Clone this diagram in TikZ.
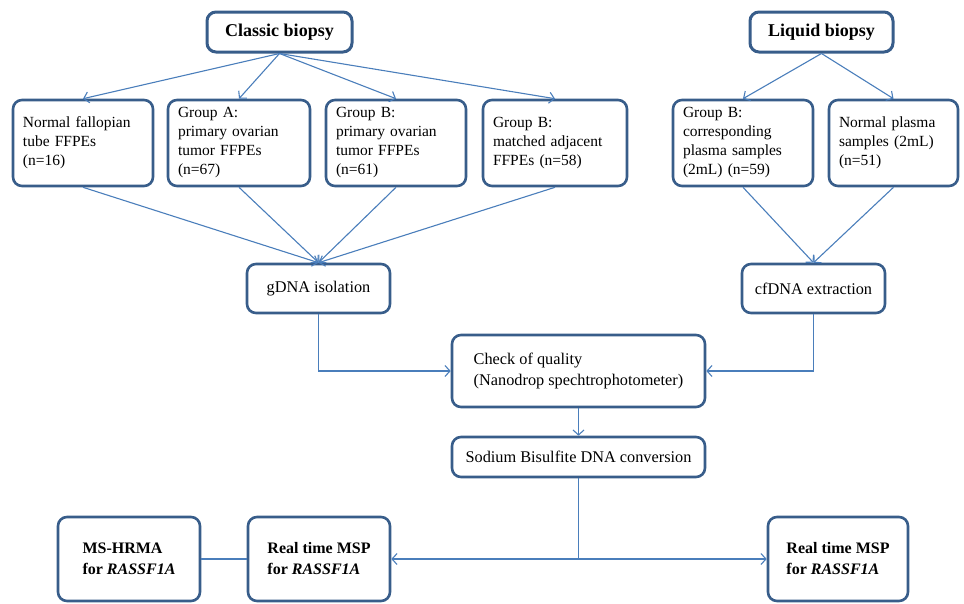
\documentclass[tikz,border=0pt]{standalone}
\usepackage{fontspec}
\setmainfont{Liberation Serif}
\usetikzlibrary{arrows.meta,calc}
\definecolor{boxblue}{HTML}{385D8A}
\definecolor{lineblue}{HTML}{4A7EBB}
\begin{document}
\begin{tikzpicture}[x=1pt,y=-1pt,
  box/.style={draw=boxblue,line width=2.6pt,rounded corners=9pt,fill=white,inner sep=0pt},
  title/.style={box,line width=3pt,font=\fontsize{18}{21}\selectfont\bfseries,minimum height=40pt},
  grp/.style={box,align=left,inner xsep=10pt,font=\fontsize{15.5}{19}\selectfont,minimum height=86pt},
  mid/.style={box,align=left,font=\fontsize{16.3}{20.5}\selectfont},
  bot/.style={box,align=left,font=\fontsize{16}{21}\selectfont\bfseries,minimum width=142pt,minimum height=84pt},
  conn/.style={draw=lineblue,line width=1.1pt},
  arr/.style={conn,-{Straight Barb[length=5pt,width=11pt]}}]
\useasboundingbox (0,0) rectangle (964,603);
% top
\node[title,minimum width=145pt] (classic) at (279.5,32) {Classic biopsy};
\node[title,minimum width=143pt] (liquid) at (821.5,32) {Liquid biopsy};
% row 2
\node[grp,text width=120pt] (nft) at (83,143) {Normal fallopian\\tube FFPEs\\(n=16)};
\node[grp,text width=122pt] (ga) at (239,143) {Group A:\\primary ovarian\\tumor FFPEs\\(n=67)};
\node[grp,text width=120pt] (gb) at (396,143) {Group B:\\primary ovarian\\tumor FFPEs\\(n=61)};
\node[grp,text width=124pt] (gbm) at (555,143) {Group B:\\matched adjacent\\FFPEs (n=58)};
\node[grp,text width=120pt] (gbc) at (743,143) {Group B:\\corresponding\\plasma samples\\(2mL) (n=59)};
\node[grp,text width=109pt] (np) at (893.5,143) {Normal plasma\\samples (2mL)\\(n=51)};
% middle
\node[mid,minimum width=143pt,minimum height=49pt] (gdna) at (318.5,288.5) {gDNA isolation};
\node[mid,minimum width=143pt,minimum height=49pt] (cfdna) at (813.5,288.5) {cfDNA extraction};
\node[mid,minimum width=253pt,minimum height=72pt] (check) at (578.5,371) {Check of quality\\(Nanodrop spechtrophotometer)};
\node[mid,minimum width=253pt,minimum height=40pt] (sodium) at (578.5,457) {Sodium Bisulfite DNA conversion};
% bottom
\node[bot] (ms) at (129,559) {MS-HRMA\\for \textit{RASSF1A}};
\node[bot] (rtl) at (319,559) {Real time MSP\\for \textit{RASSF1A}};
\node[bot,minimum width=140pt] (rtr) at (838,559) {Real time MSP\\for \textit{RASSF1A}};
% connectors
\draw[arr] (classic.south) -- (nft.north);
\draw[arr] (classic.south) -- (ga.north);
\draw[arr] (classic.south) -- (gb.north);
\draw[arr] (classic.south) -- (gbm.north);
\draw[arr] (liquid.south) -- (gbc.north);
\draw[arr] (liquid.south) -- (np.north);
\draw[arr] (nft.south) -- (gdna.north);
\draw[arr] (ga.south) -- (gdna.north);
\draw[arr] (gb.south) -- (gdna.north);
\draw[arr] (gbm.south) -- (gdna.north);
\draw[arr] (gbc.south) -- (cfdna.north);
\draw[arr] (np.south) -- (cfdna.north);
\draw[arr] (gdna.south) |- (check.west);
\draw[arr] (cfdna.south) |- (check.east);
\draw[arr] (check.south) -- (sodium.north);
\coordinate (j) at (sodium.south |- rtl.east);
\draw[conn] (sodium.south) -- (j);
\draw[arr] (j) -- (rtl.east);
\draw[arr] (j) -- (rtr.west);
\draw[conn] (ms.east) -- (rtl.west);
\end{tikzpicture}
\end{document}
